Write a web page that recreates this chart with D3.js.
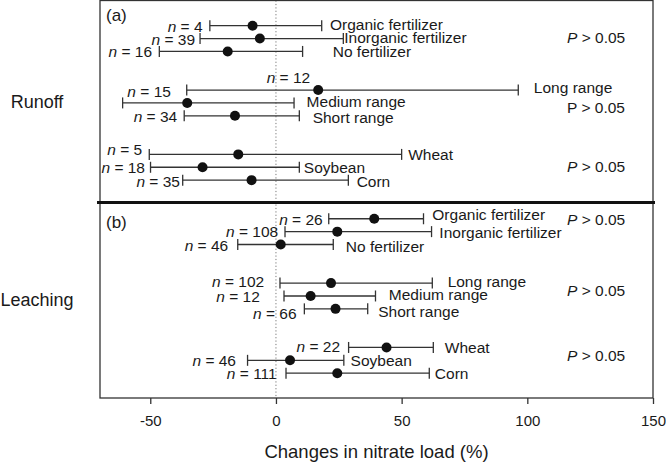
<!DOCTYPE html>
<html><head><meta charset="utf-8">
<script src="https://cdn.jsdelivr.net/npm/d3@7"></script>
<style>
html,body{margin:0;padding:0;background:#fff;}
text{font-family:"Liberation Sans",Arial,sans-serif;fill:#1a1a1a;}
</style></head>
<body>
<svg id="chart" width="666" height="464"></svg>
<script>
// ---------- data ----------
const categories = ["Organic fertilizer","Inorganic fertilizer","No fertilizer",
                    "Long range","Medium range","Short range",
                    "Wheat","Soybean","Corn"];
const runoffN    = [4, 39, 16, 12, 15, 34, 5, 18, 35];
const runoffMean = [-9.3, -6.4, -19.2, 16.8, -35.3, -16.3, -15.0, -29.2, -9.7];
const runoffLow  = [-26.3, -30.2, -46.4, -35.5, -61.0, -36.5, -50.4, -49.9, -37.1];
const runoffHigh = [18.2, 26.8, 10.6, 96.4, 7.2, 9.3, 50.0, 9.3, 28.8];
const leachN     = [26, 108, 46, 102, 12, 66, 22, 46, 111];
const leachMean  = [39.1, 24.4, 1.9, 21.9, 13.8, 23.7, 44.0, 5.6, 24.4];
const leachLow   = [21.0, 3.6, -15.2, 1.6, 3.2, 11.3, 28.9, -11.3, 4.0];
const leachHigh  = [58.7, 61.9, 22.8, 62.2, 39.6, 36.5, 62.6, 27.0, 61.0];
const pText = ["P > 0.05","P > 0.05","P > 0.05"];
const xTicks = [-50, 0, 50, 100, 150];

// ---------- layout (not data) ----------
const W = 666, H = 464;
const L = 100, R = 653, T = 0.5, B = 398, DIV = 202.5;
const rowIdx = [0,1,2,5,6,7,10,11,12];      // row slots inside a panel
const panelOffset = [0, 15];
// label placement, in axis units (x) and px offsets (dy)
const nPlace = [
 [ {x:-29.2,dy:0,a:"end"},{x:-32.2,dy:0,a:"end"},{x:-49.3,dy:0,a:"end"},
   {x:-3.7,dy:-13,a:"start"},{x:-41.8,dy:-11.5,a:"end"},{x:-39.3,dy:0.5,a:"end"},
   {x:-67.1,dy:-5.5,a:"start"},{x:-52.1,dy:0,a:"end"},{x:-38.2,dy:0.5,a:"end"} ],
 [ {x:18.6,dy:0,a:"end"},{x:0.9,dy:-1,a:"end"},{x:-19,dy:0.5,a:"end"},
   {x:-4.7,dy:-2,a:"end"},{x:-6.4,dy:0.5,a:"end"},{x:8.2,dy:4,a:"end"},
   {x:25.5,dy:-1,a:"end"},{x:-15.9,dy:0,a:"end"},{x:0.3,dy:0,a:"end"} ]];
const cPlace = [
 [ {x:21.5,dy:-1},{x:27.2,dy:-1.5},{x:22.6,dy:0.5},
   {x:102.6,dy:-2.5},{x:12.2,dy:-1},{x:14.6,dy:1.5},
   {x:52.6,dy:0},{x:11.1,dy:0},{x:32.1,dy:1.5} ],
 [ {x:62.2,dy:-4},{x:65.0,dy:1},{x:27.8,dy:2},
   {x:68.3,dy:-2},{x:44.9,dy:-1.5},{x:40.7,dy:2.5},
   {x:67.2,dy:0},{x:29.7,dy:0},{x:63.2,dy:0.5} ]];
const pRows = [[0.9, 6.3, 10.9],[15.0, 20.5, 25.6]];
const pItalic = [[true,false,true],[true,true,true]];

const svg = d3.select("#chart");
const x = d3.scaleLinear().domain([-70,150]).range([L,R]);
const y = d3.scaleLinear().domain([0,27]).range([25.7,373.2]);

const ink = "#333";
// zero line
svg.append("line").attr("x1",x(0)).attr("x2",x(0)).attr("y1",T).attr("y2",B)
  .attr("stroke","#777").attr("stroke-width",1).attr("stroke-dasharray","1.2,2.2");

// frame
svg.append("rect").attr("x",L).attr("y",T).attr("width",R-L).attr("height",B-T)
  .attr("fill","none").attr("stroke",ink).attr("stroke-width",1.3);
svg.append("line").attr("x1",L-3).attr("x2",R+2).attr("y1",DIV).attr("y2",DIV)
  .attr("stroke","#111").attr("stroke-width",3.2);

// axis
const axis = d3.axisBottom(x).tickValues(xTicks).tickSize(6).tickSizeOuter(0).tickFormat(d=>String(d));
const gx = svg.append("g").attr("transform",`translate(0,${B})`).call(axis);
gx.select(".domain").remove();
gx.selectAll(".tick line").attr("stroke",ink).attr("stroke-width",1.3);
gx.selectAll(".tick text").attr("y",17).attr("font-size","15px")
  .style("font-family","'Liberation Sans',Arial,sans-serif").attr("fill","#1a1a1a");

svg.append("text").attr("x",(L+R)/2).attr("y",458).attr("text-anchor","middle")
  .attr("font-size","18.5px").text("Changes in nitrate load (%)");

// side labels
svg.append("text").attr("x",37).attr("y",(T+DIV)/2).attr("text-anchor","middle")
  .attr("dominant-baseline","central").attr("font-size","18px").text("Runoff");
svg.append("text").attr("x",37).attr("y",(DIV+B)/2).attr("text-anchor","middle")
  .attr("dominant-baseline","central").attr("font-size","18px").text("Leaching");

svg.append("text").attr("x",106).attr("y",y(0)-10).attr("dominant-baseline","central")
  .attr("font-size","17px").text("(a)");
svg.append("text").attr("x",106).attr("y",y(15)+4).attr("dominant-baseline","central")
  .attr("font-size","17px").text("(b)");

const panels = [
  {n:runoffN, m:runoffMean, lo:runoffLow, hi:runoffHigh},
  {n:leachN,  m:leachMean,  lo:leachLow,  hi:leachHigh}
];

panels.forEach((p,pi)=>{
  const rows = categories.map((c,i)=>({c, n:p.n[i], m:p.m[i], lo:p.lo[i], hi:p.hi[i],
     yy:y(rowIdx[i]+panelOffset[pi]), np:nPlace[pi][i], cp:cPlace[pi][i]}));
  const g = svg.append("g");
  g.selectAll(".bar").data(rows).join("line")
    .attr("x1",d=>x(d.lo)).attr("x2",d=>x(d.hi)).attr("y1",d=>d.yy).attr("y2",d=>d.yy)
    .attr("stroke",ink).attr("stroke-width",1.3);
  ["lo","hi"].forEach(k=>{
    g.selectAll(".cap"+k).data(rows).join("line")
      .attr("x1",d=>x(d[k])).attr("x2",d=>x(d[k])).attr("y1",d=>d.yy-5.5).attr("y2",d=>d.yy+5.5)
      .attr("stroke",ink).attr("stroke-width",1.3);
  });
  g.selectAll(".dot").data(rows).join("circle")
    .attr("cx",d=>x(d.m)).attr("cy",d=>d.yy).attr("r",5).attr("fill","#111");
  // n labels
  const nt = g.selectAll(".nlab").data(rows).join("text")
    .attr("x",d=>x(d.np.x)).attr("y",d=>d.yy+d.np.dy).attr("text-anchor",d=>d.np.a)
    .attr("dominant-baseline","central").attr("font-size","15.5px");
  nt.append("tspan").attr("font-style","italic").text("n");
  nt.append("tspan").text(d=>" = "+d.n);
  // category labels
  g.selectAll(".clab").data(rows).join("text")
    .attr("x",d=>x(d.cp.x)).attr("y",d=>d.yy+d.cp.dy)
    .attr("dominant-baseline","central").attr("font-size","15.5px").text(d=>d.c);
  // P labels
  pRows[pi].forEach((r,j)=>{
    const t = g.append("text").attr("x",x(115.8)).attr("y",y(r))
      .attr("dominant-baseline","central").attr("font-size","15.5px");
    const s = pText[j];
    t.append("tspan").attr("font-style",pItalic[pi][j]?"italic":"normal").text(s.slice(0,1));
    t.append("tspan").text(s.slice(1));
  });
});
</script>
</body></html>
